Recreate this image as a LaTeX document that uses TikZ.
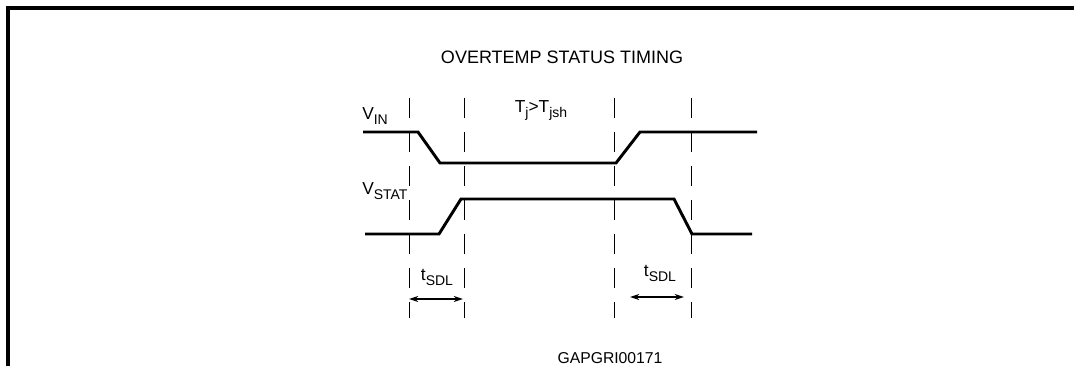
\documentclass[tikz,border=0pt]{standalone}
\usepackage{fontspec}
\setmainfont{Liberation Sans}
\usetikzlibrary{arrows.meta}
\newcommand{\lowsub}[1]{\raisebox{-3.2pt}{\fontsize{10.5}{12}\selectfont #1}}
\begin{document}
\begin{tikzpicture}[x=0.75pt, y=-0.75pt, >={Stealth[length=7pt,width=4.5pt]},
  signal/.style={line width=2.2pt, line join=miter},
  guide/.style={line width=0.6pt, dash pattern=on 15pt off 10.5pt},
  lbl/.style={inner sep=0pt, font=\fontsize{13}{15}\selectfont}]
  \useasboundingbox (0,0) rectangle (1074,366);
  % frame
  \draw[line width=2.6pt] (8,380) -- (8,8) -- (1090,8);
  \node[lbl, font=\fontsize{13.5}{15}\selectfont] (title) at (562,57) {OVERTEMP STATUS TIMING};
  % guide lines
  \foreach \x/\n in {409/a, 464/b, 614/c, 691/d} {
    \coordinate (\n top) at (\x,98);
    \coordinate (\n bot) at (\x,318);
    \draw[guide] (\n top) -- (\n bot);
  }
  % signals
  \draw[signal] (363,132) -- (418,132) -- (440,163) -- (616,163) -- (640,132) -- (757,132);
  \draw[signal] (365,234) -- (439,234) -- (461,199) -- (674,199) -- (692,234) -- (752,234);
  \node[lbl, anchor=base west] (vin) at (362,120) {V\lowsub{IN}};
  \node[lbl, anchor=base west] (vstat) at (362,195) {V\lowsub{STAT}};
  \node[lbl, anchor=base] (tj) at (541,113) {T\lowsub{j}>T\lowsub{jsh}};
  % delay marks
  \coordinate (l1) at (409,299);
  \coordinate (l2) at (463,299);
  \coordinate (r1) at (630,297);
  \coordinate (r2) at (684,297);
  \draw[<->, line width=0.9pt] (l1) -- (l2);
  \draw[<->, line width=0.9pt] (r1) -- (r2);
  \node[lbl, anchor=base] (tsdl1) at (437,281) {t\lowsub{SDL}};
  \node[lbl, anchor=base] (tsdl2) at (660,277) {t\lowsub{SDL}};
  \node[lbl, font=\fontsize{11.8}{14}\selectfont] (code) at (610,358) {GAPGRI00171};
\end{tikzpicture}
\end{document}
